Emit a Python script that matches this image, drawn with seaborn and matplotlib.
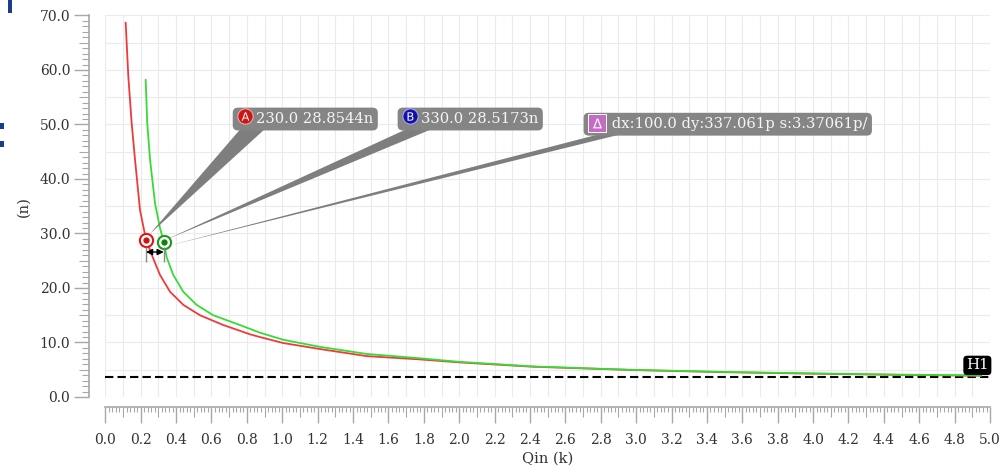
import numpy as np
import pandas as pd
import seaborn as sns
import matplotlib.pyplot as plt
from matplotlib.ticker import MultipleLocator, FormatStrFormatter
from matplotlib.patches import Rectangle
from matplotlib.transforms import offset_copy

# values (Qin in k, y in n)
red_x = [0.115, 0.13, 0.149, 0.168, 0.196, 0.23, 0.271, 0.309, 0.366, 0.441, 0.535, 0.667,
         0.818, 0.874, 1.006, 1.213, 1.477, 1.778, 2.0, 2.42, 2.98, 3.5, 3.96, 4.5, 4.95]
red_y = [68.7, 58.8, 50.2, 43.5, 34.3, 28.85, 25.4, 22.4, 19.3, 16.9, 15.0, 13.2,
         11.5, 11.0, 9.9, 8.8, 7.5, 6.9, 6.35, 5.55, 4.95, 4.55, 4.3, 4.05, 3.9]
green_x = [0.228, 0.237, 0.253, 0.281, 0.309, 0.33, 0.347, 0.384, 0.441, 0.516, 0.61, 0.761,
           0.874, 1.006, 1.213, 1.477, 1.778, 2.0, 2.42, 2.98, 3.5, 3.96, 4.5, 4.95]
green_y = [58.2, 50.2, 43.5, 35.5, 31.0, 28.52, 25.6, 22.4, 19.3, 16.9, 15.0, 13.2,
           11.8, 10.5, 9.2, 7.9, 7.1, 6.45, 5.6, 4.98, 4.6, 4.35, 4.1, 3.95]

marker_a = (0.23, 28.8544)
marker_b = (0.33, 28.5173)
h1_level = 3.7

label_a = '230.0 28.8544n'
label_b = '330.0 28.5173n'
label_delta = 'dx:100.0 dy:337.061p s:3.37061p/'

df = pd.concat([
    pd.DataFrame({'Qin': red_x, 'val': red_y, 'trace': 'red'}),
    pd.DataFrame({'Qin': green_x, 'val': green_y, 'trace': 'green'}),
])

sns.set_theme(style='white')
plt.rcParams['font.family'] = ['DejaVu Serif', 'DejaVu Sans']

fig = plt.figure(figsize=(10.04, 4.72), dpi=100)
ax = fig.add_axes([0.1049, 0.1589, 0.8812, 0.8083])

# light grid
for gx in np.arange(0, 5.001, 0.1):
    ax.axvline(gx, color='#ebebeb', lw=0.8, zorder=0)
for gy in np.arange(0, 70.001, 5):
    ax.axhline(gy, color='#ebebeb', lw=0.8, zorder=0)

sns.lineplot(data=df, x='Qin', y='val', hue='trace', sort=False, legend=False,
             palette={'red': '#f03a3a', 'green': '#36dc36'}, lw=1.3, ax=ax, zorder=3)

ax.axhline(h1_level, color='black', lw=1.5, linestyle=(0, (4, 2)), zorder=2)

ax.set_xlim(0, 5)
ax.set_ylim(0, 70)

# rulers
for s in ['top', 'right']:
    ax.spines[s].set_visible(False)
ax.spines['left'].set_position(('outward', 11.5))
ax.spines['bottom'].set_position(('outward', 7.2))
for s in ['left', 'bottom']:
    ax.spines[s].set_color('#a8a8a8')
    ax.spines[s].set_linewidth(1.2)

ax.xaxis.set_major_locator(MultipleLocator(0.2))
ax.xaxis.set_minor_locator(MultipleLocator(0.02))
ax.yaxis.set_major_locator(MultipleLocator(10))
ax.yaxis.set_minor_locator(MultipleLocator(1))
ax.xaxis.set_major_formatter(FormatStrFormatter('%.1f'))
ax.yaxis.set_major_formatter(FormatStrFormatter('%.1f'))

ax.tick_params(axis='x', which='major', direction='out', length=11.5, width=1, color='#a8a8a8',
               labelsize=10, labelcolor='#333333', pad=7, bottom=True)
ax.tick_params(axis='x', which='minor', direction='out', length=3.6, width=0.8, color='#a8a8a8', bottom=True)
ax.tick_params(axis='y', which='major', direction='out', length=10.8, width=1, color='#a8a8a8',
               labelsize=10, labelcolor='#333333', pad=3, left=True)
ax.tick_params(axis='y', which='minor', direction='out', length=5, width=0.8, color='#a8a8a8', left=True)

for t, loc in zip(ax.xaxis.get_minor_ticks(), ax.xaxis.get_minorticklocs()):
    if abs(round(loc / 0.1) * 0.1 - loc) < 1e-6:
        t.tick1line.set_markersize(7)
for t, loc in zip(ax.yaxis.get_minor_ticks(), ax.yaxis.get_minorticklocs()):
    if abs(round(loc / 5) * 5 - loc) < 1e-6:
        t.tick1line.set_markersize(7.5)

ax.set_xlabel('Qin (k)', fontsize=10.5, color='#333333')
ax.set_ylabel('(n)', fontsize=10.5, color='#333333')
ax.xaxis.set_label_coords(0.5, -0.143)
ax.yaxis.set_label_coords(-0.085, 0.5)

# callout boxes with wedges (wedge starts inside the box, box hides its root)
box_kw = dict(boxstyle='round,pad=0.3,rounding_size=0.35', fc='#858585', ec='none')
callouts = [
    ('    ' + label_a, (marker_a[0] + 0.02, marker_a[1] + 1.0), (0.745, 51.0), 1.3, 0.18),
    ('    ' + label_b, (marker_b[0] + 0.003, marker_b[1] + 0.2), (1.677, 51.0), 0.75, 0.29),
    ('     ' + label_delta, (marker_b[0] + 0.01, marker_b[1] - 0.9), (2.728, 50.05), 0.4, 0.22),
]
for lab, xy, xyt, tw, rp in callouts:
    ax.annotate(lab, xy=xy, xytext=xyt, textcoords='data', ha='left', va='center',
                fontsize=10.6, color='#f5f5f5', bbox=box_kw, zorder=5,
                arrowprops=dict(arrowstyle=f'wedge,tail_width={tw},shrink_factor=0.5',
                                fc='#7e7e7e', ec='none', relpos=(rp, 0.5), patchA=None,
                                shrinkA=0, shrinkB=0))

# badges drawn as markers, shifted a few points right of each box's text anchor
badge_pos = [c[2] for c in callouts]
badges = [
    ('o', r'$\mathsf{A}$', '#cc1515', '#f0b0b0', 5.6, 2.5),
    ('o', r'$\mathsf{B}$', '#1212a8', '#b0b0f0', 5.6, 2.5),
    ('s', r'$\Delta$', '#c46cc4', 'white', 6.5, 0.8),
]
for (bx, by), (shape, sym, fc, ec, dx, dy) in zip(badge_pos, badges):
    tr = offset_copy(ax.transData, fig=fig, x=dx, y=dy, units='points')
    ax.plot(bx, by, marker=shape, ms=11 if shape == 'o' else 13.5, mfc=fc, mec=ec, mew=0.7,
            transform=tr, zorder=7, clip_on=False)
    ax.plot(bx, by, marker=sym, ms=6 if shape == 'o' else 7, color='white', mew=0,
            transform=tr, zorder=8, clip_on=False)

# cursor markers
ax.plot(*marker_a, marker='o', ms=9.5, mfc='white', mec='#e01515', mew=1.5, zorder=6)
ax.plot(*marker_a, marker='o', ms=3.5, color='#d01010', zorder=6)
ax.plot(*marker_b, marker='o', ms=9.5, mfc='white', mec='#1c9a1c', mew=1.5, zorder=6)
ax.plot(*marker_b, marker='o', ms=3.5, color='#108010', zorder=6)

# delta arrow between the cursors
ax.vlines([marker_a[0], marker_b[0]], 24.8, 27.6, color='#8a8a8a', lw=1, zorder=6)
ax.annotate('', xy=(marker_a[0], 26.6), xytext=(marker_b[0], 26.6),
            arrowprops=dict(arrowstyle='<|-|>', color='black', lw=1, mutation_scale=9,
                            shrinkA=0, shrinkB=0), zorder=6)

# H1 tag
ax.annotate('H1', xy=(5.0, h1_level), xytext=(-1, 3.2), textcoords='offset points',
            ha='right', va='bottom', fontsize=10.8, color='white', zorder=7,
            bbox=dict(boxstyle='round,pad=0.18,rounding_size=0.25', fc='black', ec='none'))

# cropped edge marks at top-left of the screenshot
for rx, ry, rw, rh in [(8, 0, 4.5, 13), (0, 123, 4, 5.5), (0, 141, 4, 5.5)]:
    fig.add_artist(Rectangle((rx / 1004, 1 - (ry + rh) / 472), rw / 1004, rh / 472,
                             transform=fig.transFigure, color='#1b3c8a', lw=0))

fig.savefig('out.png', dpi=100)
